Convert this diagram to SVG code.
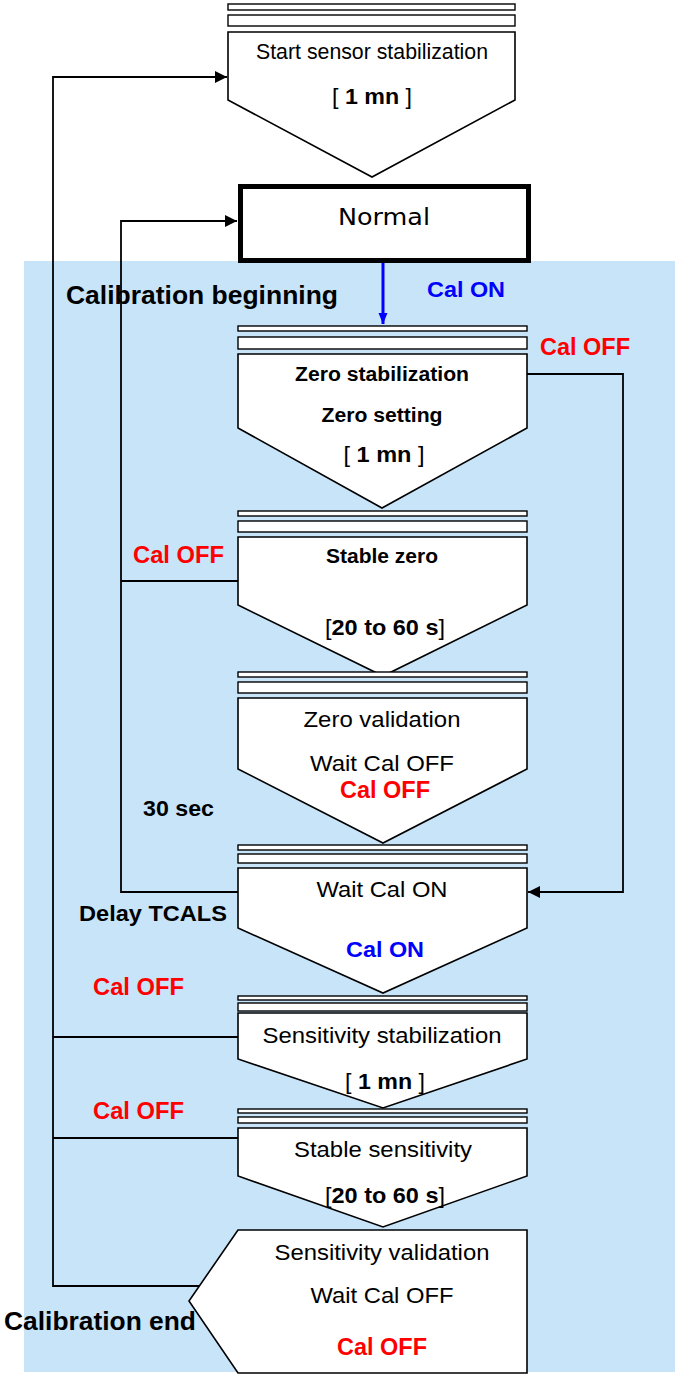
<svg xmlns="http://www.w3.org/2000/svg" width="677" height="1377" viewBox="0 0 677 1377">
<style>
.bg{fill:#C7E4F9;stroke:none}
.box{fill:#fff;stroke:#000;stroke-width:1.6}
.bar{fill:#fff;stroke:#000;stroke-width:1.4}
.thick{fill:#fff;stroke:#000;stroke-width:5}
.con{fill:none;stroke:#000;stroke-width:1.8}
.blue{fill:none;stroke:#0000FF;stroke-width:3}
text{font-family:"Liberation Sans",Arial,sans-serif;font-size:22px;fill:#000}
.b{font-weight:bold}
.n{font-weight:normal}
.lbl{font-weight:bold;font-size:26px}
.red{font-weight:bold;font-size:23px;fill:#FF0000}
.bl{font-weight:bold;font-size:22px;fill:#0000FF}
.bt{font-weight:bold;font-size:20px}
.dv{font-family:"DejaVu Sans",sans-serif;font-size:23px}
</style>
<defs>
<marker id="ah" markerUnits="userSpaceOnUse" markerWidth="14" markerHeight="14" refX="12" refY="7" orient="auto">
<path d="M0,1 L12,7 L0,13 Z" fill="#000"/>
</marker>
<marker id="ahb" markerUnits="userSpaceOnUse" markerWidth="12" markerHeight="14" refX="11" refY="5" orient="auto">
<path d="M0,0.5 L11,5 L0,9.5 Z" fill="#0000FF"/>
</marker>
</defs>

<rect class="bg" x="24" y="261" width="651" height="1111"/>

<g id="connectors">
<polyline class="con" points="199,1286 53,1286 53,77 227,77" marker-end="url(#ah)"/>
<line class="con" x1="238" y1="1037" x2="53" y2="1037"/>
<line class="con" x1="238" y1="1138" x2="53" y2="1138"/>
<polyline class="con" points="238,892 121,892 121,221 237,221" marker-end="url(#ah)"/>
<line class="con" x1="238" y1="581" x2="121" y2="581"/>
<polyline class="con" points="527,374 623,374 623,892 528,892" marker-end="url(#ah)"/>
<line class="blue" x1="383" y1="263" x2="383" y2="324" marker-end="url(#ahb)"/>
</g>

<g id="start">
<rect class="bar" x="228" y="4" width="287" height="6"/>
<rect class="bar" x="228" y="15" width="287" height="11"/>
<polygon class="box" points="228,32 515,32 515,100 372,177 228,100"/>
<text x="372" y="59" text-anchor="middle" textLength="232" lengthAdjust="spacingAndGlyphs">Start sensor stabilization</text>
<text x="372" y="104" text-anchor="middle" textLength="80" lengthAdjust="spacingAndGlyphs">[ <tspan class="b">1 mn</tspan> ]</text>
</g>

<g id="normal">
<rect class="thick" x="240.5" y="186.5" width="288" height="74"/>
<text class="dv" x="384" y="225" text-anchor="middle" textLength="92" lengthAdjust="spacingAndGlyphs">Normal</text>
</g>

<g id="labels">
<text class="lbl" x="66" y="304" textLength="272" lengthAdjust="spacingAndGlyphs">Calibration beginning</text>
<text class="bl" x="427" y="297" textLength="78" lengthAdjust="spacingAndGlyphs">Cal ON</text>
<text class="red" x="540" y="355" textLength="90" lengthAdjust="spacingAndGlyphs">Cal OFF</text>
<text class="red" x="133" y="563" textLength="91" lengthAdjust="spacingAndGlyphs">Cal OFF</text>
<text class="b" x="143" y="816" textLength="71" lengthAdjust="spacingAndGlyphs">30 sec</text>
<text class="b" x="79" y="921" textLength="148" lengthAdjust="spacingAndGlyphs">Delay TCALS</text>
<text class="red" x="93" y="995" textLength="91" lengthAdjust="spacingAndGlyphs">Cal OFF</text>
<text class="red" x="93" y="1119" textLength="91" lengthAdjust="spacingAndGlyphs">Cal OFF</text>
<text class="lbl" x="4" y="1330" textLength="192" lengthAdjust="spacingAndGlyphs">Calibration end</text>
</g>

<g id="zero-stab">
<polygon class="box" points="238,354 527,354 527,428 382,508 238,428"/>
<rect class="bar" x="238" y="326" width="289" height="5"/>
<rect class="bar" x="238" y="337" width="289" height="12"/>
<text class="bt" x="382" y="381" text-anchor="middle" textLength="174" lengthAdjust="spacingAndGlyphs">Zero stabilization</text>
<text class="bt" x="382" y="422" text-anchor="middle" textLength="121" lengthAdjust="spacingAndGlyphs">Zero setting</text>
<text x="384" y="462" text-anchor="middle" textLength="81" lengthAdjust="spacingAndGlyphs">[ <tspan class="b">1 mn</tspan> ]</text>
</g>

<g id="stable-zero">
<polygon class="box" points="238,537 527,537 527,605 383,676 238,605"/>
<rect class="bar" x="238" y="511" width="289" height="5"/>
<rect class="bar" x="238" y="521" width="289" height="11"/>
<text class="bt" x="382" y="563" text-anchor="middle" textLength="112" lengthAdjust="spacingAndGlyphs">Stable zero</text>
<text x="385" y="635" text-anchor="middle" textLength="120" lengthAdjust="spacingAndGlyphs">[<tspan class="b">20 to 60 s</tspan>]</text>
</g>

<g id="zero-valid">
<polygon class="box" points="238,698 527,698 527,769 383,843 238,769"/>
<rect class="bar" x="238" y="672" width="289" height="5"/>
<rect class="bar" x="238" y="682" width="289" height="11"/>
<text x="382" y="727" text-anchor="middle" textLength="157" lengthAdjust="spacingAndGlyphs">Zero validation</text>
<text x="382" y="771" text-anchor="middle" textLength="144" lengthAdjust="spacingAndGlyphs">Wait Cal OFF</text>
<text class="red" x="385" y="798" text-anchor="middle" textLength="90" lengthAdjust="spacingAndGlyphs">Cal OFF</text>
</g>

<g id="wait-cal-on">
<polygon class="box" points="238,868 527,868 527,928 383,993 238,928"/>
<rect class="bar" x="238" y="845" width="289" height="5"/>
<rect class="bar" x="238" y="854" width="289" height="9"/>
<text x="382" y="897" text-anchor="middle" textLength="131" lengthAdjust="spacingAndGlyphs">Wait Cal ON</text>
<text class="bl" x="385" y="957" text-anchor="middle" textLength="78" lengthAdjust="spacingAndGlyphs">Cal ON</text>
</g>

<g id="sens-stab">
<polygon class="box" points="238,1013 527,1013 527,1059 383,1108 238,1059"/>
<rect class="bar" x="238" y="996" width="289" height="4"/>
<rect class="bar" x="238" y="1003" width="289" height="8"/>
<text x="382" y="1043" text-anchor="middle" textLength="239" lengthAdjust="spacingAndGlyphs">Sensitivity stabilization</text>
<text x="385" y="1089" text-anchor="middle" textLength="80" lengthAdjust="spacingAndGlyphs">[ <tspan class="b">1 mn</tspan> ]</text>
</g>

<g id="stable-sens">
<polygon class="box" points="238,1128 527,1128 527,1176 383,1227 238,1176"/>
<rect class="bar" x="238" y="1109" width="289" height="4"/>
<rect class="bar" x="238" y="1117" width="289" height="6"/>
<text x="383" y="1157" text-anchor="middle" textLength="178" lengthAdjust="spacingAndGlyphs">Stable sensitivity</text>
<text x="385" y="1203" text-anchor="middle" textLength="120" lengthAdjust="spacingAndGlyphs">[<tspan class="b">20 to 60 s</tspan>]</text>
</g>

<g id="sens-valid">
<polygon class="box" points="238,1230 527,1230 527,1373 238,1373 189,1301"/>
<text x="382" y="1260" text-anchor="middle" textLength="215" lengthAdjust="spacingAndGlyphs">Sensitivity validation</text>
<text x="382" y="1303" text-anchor="middle" textLength="143" lengthAdjust="spacingAndGlyphs">Wait Cal OFF</text>
<text class="red" x="382" y="1355" text-anchor="middle" textLength="90" lengthAdjust="spacingAndGlyphs">Cal OFF</text>
</g>
</svg>
